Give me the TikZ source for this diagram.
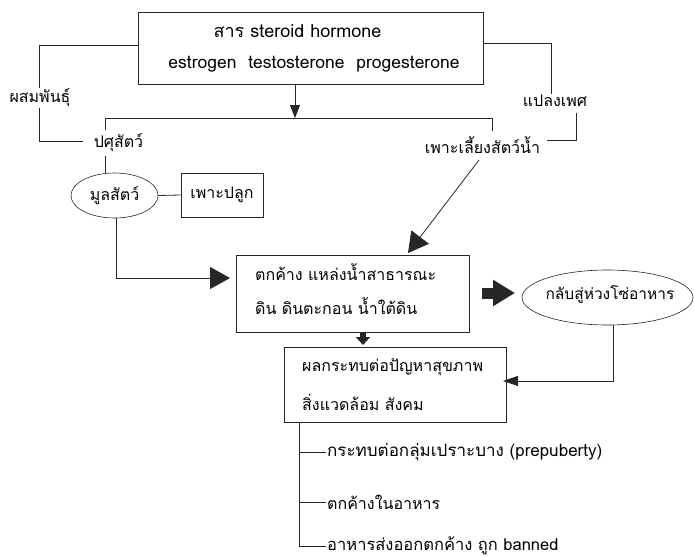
\documentclass[tikz,border=0pt]{standalone}
\usepackage{fontspec}
\setmainfont[Script=Thai]{Loma}
\usetikzlibrary{arrows.meta,shapes.geometric}
\newcommand{\fs}[1]{\fontsize{#1}{#1}\selectfont}
\begin{document}
\begin{tikzpicture}[x=1pt,y=-1pt,
  every node/.style={font=\fs{16}, inner sep=1pt},
  conn/.style={draw=black!85, line width=0.8pt},
  boxn/.style={draw=black!85, line width=0.8pt, rectangle, inner sep=0pt},
  ovaln/.style={draw=black!85, line width=0.6pt, ellipse, inner sep=0pt},
  lab/.style={fill=white, inner sep=1pt},
  smalltip/.style={-{Triangle[length=13pt,width=10pt]}},
  bigtip/.style={-{Triangle[length=20pt,width=22pt]}}
]
\useasboundingbox (0,0) rectangle (694,557);
% boxes
\node[boxn, minimum width=345pt, minimum height=72pt] (top) at (310.5,48) {};
\node[anchor=center, font=\fs{18}] (t1) at (297.5,31) {สาร steroid hormone};
\node[anchor=center, font=\fs{17.5}] (t2) at (314,64) {estrogen\ \ testosterone\ \ progesterone};
\node[boxn, minimum width=233pt, minimum height=77pt] (mid) at (352.5,293.5) {};
\node[anchor=west] (m1) at (254,272) {ตกค้าง แหล่งน้ำสาธารณะ};
\node[anchor=west] (m2) at (254,306) {ดิน ดินตะกอน น้ำใต้ดิน};
\node[boxn, minimum width=222pt, minimum height=75pt] (bot) at (395,384.5) {};
\node[anchor=west] (b1) at (301,367) {ผลกระทบต่อปัญหาสุขภาพ};
\node[anchor=west] (b2) at (301,402) {สิ่งแวดล้อม สังคม};
\node[ovaln, minimum width=87pt, minimum height=45pt] (dung) at (114.5,195.5) {มูลสัตว์};
\node[boxn, minimum width=82pt, minimum height=44pt] (plant) at (222,195) {เพาะปลูก};
\node[ovaln, minimum width=171pt, minimum height=55pt] (food) at (607.5,297.5) {};
\node[font=\fs{15.5}] (foodt) at (610,295) {กลับสู่ห่วงโซ่อาหาร};
% labels
\node (pasu) at (118.5,143) {ปศุสัตว์};
\node (aqua) at (482.5,145) {เพาะเลี้ยงสัตว์น้ำ};
\node[anchor=west, font=\fs{17}] (l1) at (326,452) {กระทบต่อกลุ่มเปราะบาง (prepuberty)};
\node[anchor=west] (l2) at (326,502) {ตกค้างในอาหาร};
\node[anchor=west, font=\fs{16.5}] (l3) at (326,546) {อาหารส่งออกตกค้าง ถูก banned};
% coordinates
\coordinate (bar) at (295,118);
\coordinate (barL) at (105,118);
\coordinate (barR) at (492,118);
\coordinate (lcorner) at (39,45);
\coordinate (rcorner) at (551,43);
\coordinate (rlow) at (576,140);
\coordinate (aquaout) at (479,160);
\coordinate (trunk) at (299,422);
% connectors
\draw[conn] ([yshift=3pt]top.west) -- (lcorner) |- (83,141);
\draw[conn] ([yshift=5pt]top.east) -- (rcorner) -- (551,95);
\draw[conn] (576,113) -- (rlow) -- (547,140);
\node[lab] (psm) at (40,98) {ผสมพันธุ์};
\node[lab] (plaeng) at (555,101) {แปลงเพศ};
\draw[conn, smalltip] ([xshift=-15.5pt]top.south) -- (bar);
\draw[conn] (105,130) -- (barL) -- (barR) -- (492,131);
\draw[conn] (105,156) -- (105,173);
\draw[conn] (dung.east) -- (plant.west);
\draw[conn, bigtip] (116,218) |- (230,278);
\draw[conn, bigtip] (aquaout) -- (408,253);
\draw[conn, -{Triangle[length=22pt,width=25pt]}, line width=11pt] (482,293) -- (515,293);
\draw[conn, -{Triangle[length=8pt,width=14pt]}, line width=6pt] (363,332) -- (363,345);
\draw[conn, -{Triangle[length=15pt,width=10pt]}] (613,325) |- (503,381);
\draw[conn] (trunk) |- (l3.west);
\draw[conn] (trunk |- l1.west) -- (l1.west);
\draw[conn] (trunk |- l2.west) -- (l2.west);
\end{tikzpicture}
\end{document}
